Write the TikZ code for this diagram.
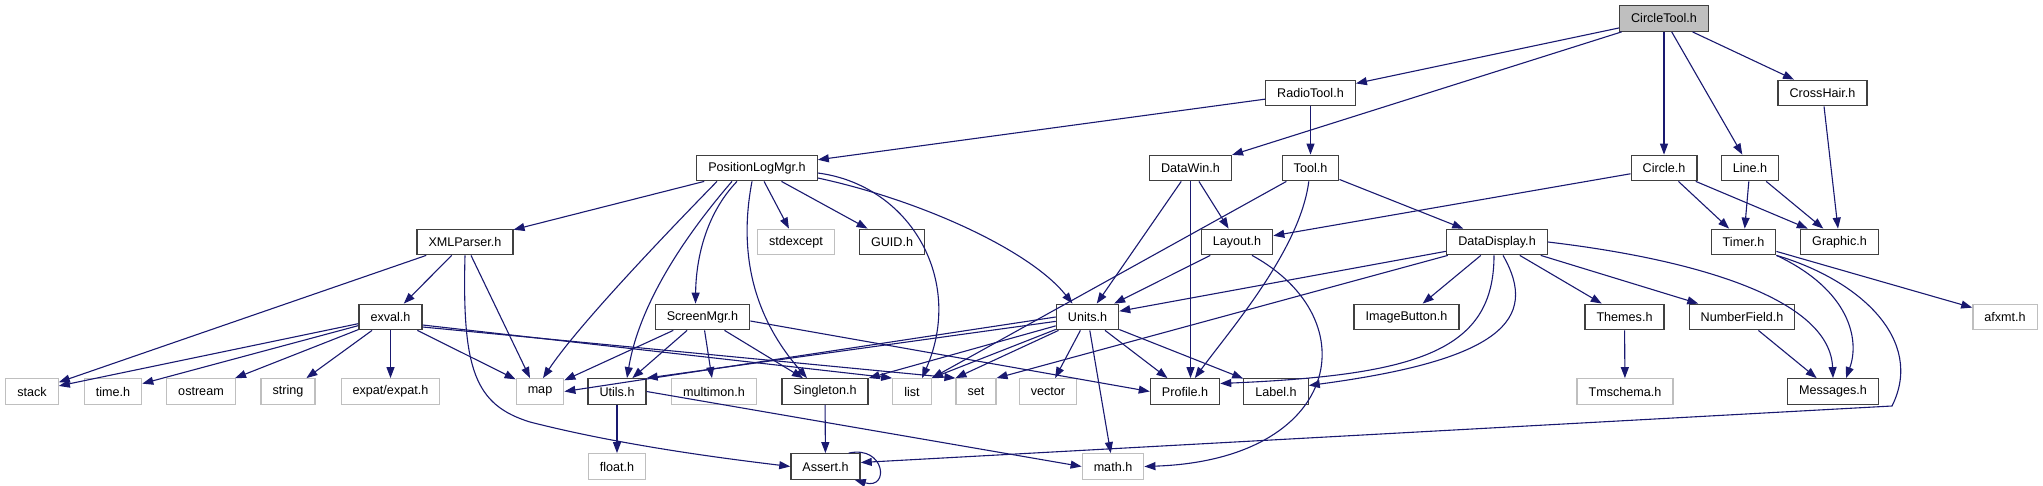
\documentclass[tikz,border=0pt]{standalone}
\usepackage{fontspec}
\setmainfont{Liberation Sans}
\usepackage{tikz}
\usetikzlibrary{arrows.meta}
\definecolor{Midnight}{HTML}{191970}
\definecolor{BoxEdge}{HTML}{404040}
\definecolor{SysEdge}{HTML}{BFBFBF}
\definecolor{RootFill}{HTML}{BFBFBF}

\begin{document}
\begin{tikzpicture}[
  x=1pt,y=-1pt,
  every node/.style={font=\fontsize{12.6}{14}\selectfont,inner xsep=11.5pt,inner ysep=0pt,minimum height=25.5pt},
  hdr/.style={draw=BoxEdge,line width=1.3pt,fill=white},
  sys/.style={draw=SysEdge,line width=1.3pt,fill=white},
  root/.style={hdr,fill=RootFill},
  arr/.style={-{Triangle[length=11pt,width=8pt]},line width=1.1pt,Midnight}
]
\useasboundingbox (0,0) rectangle (2043,486);
\node[root] (circletool) at (1664,18.5) {CircleTool.h};
\node[hdr] (radiotool) at (1310.5,93) {RadioTool.h};
\node[hdr] (crosshair) at (1822.5,93) {CrossHair.h};
\node[hdr] (poslog) at (757,168) {PositionLogMgr.h};
\node[hdr] (datawin) at (1190.5,168) {DataWin.h};
\node[hdr] (tool) at (1310.5,168) {Tool.h};
\node[hdr] (circleh) at (1664,168) {Circle.h};
\node[hdr] (lineh) at (1750,168) {Line.h};
\node[hdr] (xmlparser) at (465,242) {XMLParser.h};
\node[sys] (stdexcept) at (796,242) {stdexcept};
\node[hdr] (guid) at (892,242) {GUID.h};
\node[hdr] (layout) at (1237,242) {Layout.h};
\node[hdr] (datadisplay) at (1497,242) {DataDisplay.h};
\node[hdr] (timer) at (1743.5,242) {Timer.h};
\node[hdr] (graphic) at (1839.5,242) {Graphic.h};
\node[hdr] (exval) at (390.5,317) {exval.h};
\node[hdr] (screenmgr) at (702.5,317) {ScreenMgr.h};
\node[hdr] (units) at (1087.5,317) {Units.h};
\node[hdr] (imagebutton) at (1406.5,317) {ImageButton.h};
\node[hdr] (themes) at (1624.5,317) {Themes.h};
\node[hdr] (numberfield) at (1742,317) {NumberField.h};
\node[sys] (afxmt) at (2005,317) {afxmt.h};
\node[sys] (stack) at (32,391.5) {stack};
\node[sys] (timeh) at (113,391.5) {time.h};
\node[sys] (ostream) at (201,391.5) {ostream};
\node[sys] (string) at (288,391.5) {string};
\node[sys] (expat) at (390.5,391.5) {expat/expat.h};
\node[sys] (map) at (540,391.5) {map};
\node[hdr] (utils) at (617,391.5) {Utils.h};
\node[sys] (multimon) at (714,391.5) {multimon.h};
\node[hdr] (singleton) at (825,391.5) {Singleton.h};
\node[sys] (list) at (912,391.5) {list};
\node[sys] (set) at (976,391.5) {set};
\node[sys] (vector) at (1048,391.5) {vector};
\node[hdr] (profile) at (1185,391.5) {Profile.h};
\node[hdr] (label) at (1276,391.5) {Label.h};
\node[sys] (tmschema) at (1625,391.5) {Tmschema.h};
\node[hdr] (messages) at (1833,391.5) {Messages.h};
\node[sys] (floath) at (617,466.5) {float.h};
\node[hdr] (assert) at (825.5,466.5) {Assert.h};
\node[sys] (math) at (1113,466.5) {math.h};
\draw[arr] (circletool)--(radiotool); \draw[arr] (circletool)--(datawin); \draw[arr] (circletool)--(circleh);
\draw[arr] (circletool)--(lineh); \draw[arr] (circletool)--(crosshair); \draw[arr] (crosshair)--(graphic);
\draw[arr] (radiotool)--(poslog); \draw[arr] (radiotool)--(tool);
\draw[arr] (poslog)--(xmlparser); \draw[arr] (poslog)--(stdexcept); \draw[arr] (poslog)--(guid);
\draw[arr] ([xshift=-40pt]poslog.south) .. controls (650,250) and (575,330) .. ([xshift=3pt]map.north);
\draw[arr] ([xshift=-25pt]poslog.south) .. controls (690,230) and (640,300) .. ([xshift=10pt]utils.north);
\draw[arr] ([xshift=-20pt]poslog.south) .. controls (705,215) and (696,260) .. ([xshift=-7pt]screenmgr.north);
\draw[arr] ([xshift=-5pt]poslog.south) .. controls (735,270) and (765,330) .. ([xshift=-18pt]singleton.north);
\draw[arr] ([yshift=-5pt]poslog.east) .. controls (910,185) and (965,280) .. ([xshift=10pt]list.north);
\draw[arr] ([yshift=-10pt]poslog.east) .. controls (920,200) and (1030,250) .. ([xshift=-15pt]units.north);
\draw[arr] (xmlparser)--(stack); \draw[arr] (xmlparser)--(exval); \draw[arr] ([xshift=6pt]xmlparser.south)--([xshift=-10pt]map.north);
\draw[arr] (xmlparser.south) .. controls (462,370) and (475,405) .. (530,422) .. controls (620,445) and (720,458) .. (assert.west);
\draw[arr] (exval)--(stack); \draw[arr] (exval)--(timeh); \draw[arr] (exval)--(ostream); \draw[arr] (exval)--(string);
\draw[arr] (exval)--(expat); \draw[arr] (exval)--(map);
\draw[arr] ([yshift=-8pt]exval.east)--(list.north west); \draw[arr] ([yshift=-10pt]exval.east)--(set.north west);
\draw[arr] (screenmgr)--(map); \draw[arr] (screenmgr)--(utils); \draw[arr] (screenmgr)--(multimon);
\draw[arr] (screenmgr)--(singleton); \draw[arr] ([yshift=-4pt]screenmgr.east)--(profile.west);
\draw[arr] (units.west)--(map.east); \draw[arr] (units)--(utils.north east); \draw[arr] (units)--(singleton.north east);
\draw[arr] (units)--(list.north east); \draw[arr] (units)--(set.north west); \draw[arr] (units)--(vector);
\draw[arr] (units)--(math); \draw[arr] (units)--(profile); \draw[arr] (units)--(label);
\draw[arr] (datawin)--(units); \draw[arr] (datawin.south)--(datawin.south |- profile.north); \draw[arr] (datawin)--(layout);
\draw[arr] (tool)--(list.north east); \draw[arr] (tool) .. controls (1300,250) and (1230,330) .. (profile); \draw[arr] (tool)--(datadisplay);
\draw[arr] (layout)--(units);
\draw[arr] ([xshift=15pt]layout.south) .. controls (1370,320) and (1340,460) .. (math.east);
\draw[arr] (circleh)--(layout); \draw[arr] (circleh)--(timer); \draw[arr] (circleh)--(graphic);
\draw[arr] (lineh)--(timer); \draw[arr] (lineh)--(graphic);
\draw[arr] (datadisplay)--(units); \draw[arr] (datadisplay)--(set.north east); \draw[arr] (datadisplay)--(imagebutton);
\draw[arr] (datadisplay)--(themes); \draw[arr] (datadisplay)--(numberfield);
\draw[arr] ([xshift=-3pt]datadisplay.south) .. controls (1494,350) and (1420,375) .. ([yshift=8pt]profile.east);
\draw[arr] ([xshift=6pt]datadisplay.south) .. controls (1540,320) and (1500,360) .. ([yshift=6pt]label.east);
\draw[arr] (datadisplay.east) .. controls (1700,260) and (1830,300) .. (messages.north);
\draw[arr] (timer.south east) .. controls (1850,290) and (1860,340) .. ([xshift=13pt]messages.north);
\draw[arr] (timer)--(afxmt);
\draw[arr] (timer.south east) .. controls (1860,280) and (1925,340) .. (1892,406) -- ([yshift=4pt]assert.east);
\draw[arr] (themes)--(tmschema); \draw[arr] (numberfield)--(messages);
\draw[arr] (utils)--(floath); \draw[arr] (utils.east)--(math.west); \draw[arr] (singleton)--(assert);
\draw[arr] ([xshift=-12pt]assert.north east) .. controls (885,445) and (890,490) .. ([xshift=-6pt]assert.south east);
\end{tikzpicture}
\end{document}
